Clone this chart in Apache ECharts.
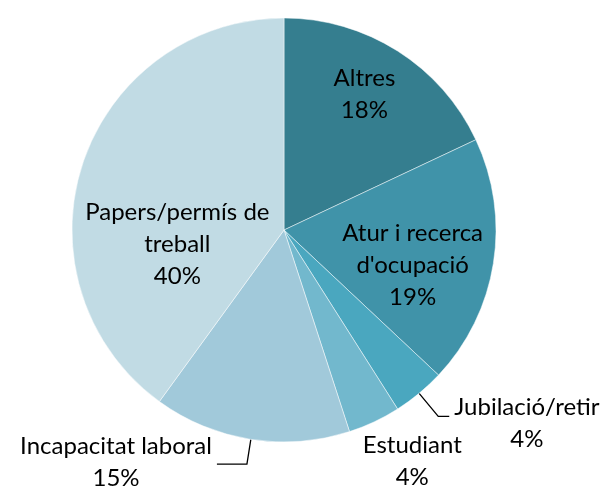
<!DOCTYPE html>
<html>
<head>
<meta charset="utf-8">
<script src="https://cdn.jsdelivr.net/npm/echarts@6/dist/echarts.min.js"></script>
<style>
  html, body { margin: 0; padding: 0; background: #fff; }
  #chart { width: 606px; height: 487px; }
</style>
</head>
<body>
<div id="chart"></div>
<script>
// motius (categories) i percentatges
var categories = ['Altres', "Atur i recerca d'ocupació", 'Jubilació/retir', 'Estudiant', 'Incapacitat laboral', 'Papers/permís de treball'];
var values = [18, 19, 4, 4, 15, 40];
var colors = ['#357e8f', '#4093a9', '#4aa7bf', '#72b8cd', '#a1c9da', '#c1dbe4'];

// desplaçament de les etiquetes respecte a la posició per defecte
var labelShift = [[22, -44], [21, 18], [0, 7], [-25, 21], [0, -2], [-3, 48]];

// parteix un nom en línies de com a molt maxChars caràcters
function wrap(name, maxChars) {
    var words = name.split(' ');
    var lines = [];
    var cur = '';
    words.forEach(function(w) {
        if (cur && (cur + ' ' + w).length > maxChars) {
            lines.push(cur);
            cur = w;
        } else {
            cur = cur ? cur + ' ' + w : w;
        }
    });
    lines.push(cur);
    return lines;
}

(function() {
    var myChart = echarts.init(document.getElementById('chart'));
    var font = 'Lato, "Open Sans", sans-serif';
    var outside = [2, 3, 4];

    var data = categories.map(function(name, i) {
        var item = {
            name: name,
            value: values[i],
            itemStyle: { color: colors[i] }
        };
        if (i === 2) {
            item.label = { position: 'outside' };
            item.labelLine = { show: true, length: 30, length2: 11 };
        } else if (i === 3) {
            item.label = { position: 'outside' };
            item.labelLine = { show: false, length: 20, length2: 0 };
        } else if (i === 4) {
            item.label = { position: 'outside' };
            item.labelLine = { show: true, length: 25, length2: 30 };
        }
        return item;
    });

    var option = {
        animation: false,
        series: [{
            type: 'pie',
            center: [284, 230],
            radius: 212,
            startAngle: 90,
            clockwise: true,
            avoidLabelOverlap: false,
            itemStyle: {
                borderColor: 'rgba(255,255,255,0.6)',
                borderWidth: 0.8
            },
            label: {
                show: true,
                position: 'inside',
                formatter: function(p) {
                    var lines = outside.indexOf(p.dataIndex) >= 0 ? [p.name] : wrap(p.name, 16);
                    lines.push(Math.round(p.percent) + '%');
                    return lines.map(function(l) { return '{t|' + l + '}'; }).join('\n');
                },
                color: '#000',
                fontFamily: font,
                fontSize: 24,
                lineHeight: 32,
                rich: {
                    t: {
                        align: 'center',
                        color: '#000',
                        fontFamily: font,
                        fontSize: 24,
                        lineHeight: 32
                    }
                }
            },
            labelLine: {
                lineStyle: { color: '#000', width: 1.3 },
                smooth: false
            },
            labelLayout: function(params) {
                var s = labelShift[params.dataIndex];
                return { dx: s[0], dy: s[1] };
            },
            data: data
        }]
    };

    myChart.setOption(option);

    window.addEventListener('resize', function() {
        myChart.resize();
    });
})();
</script>
</body>
</html>
